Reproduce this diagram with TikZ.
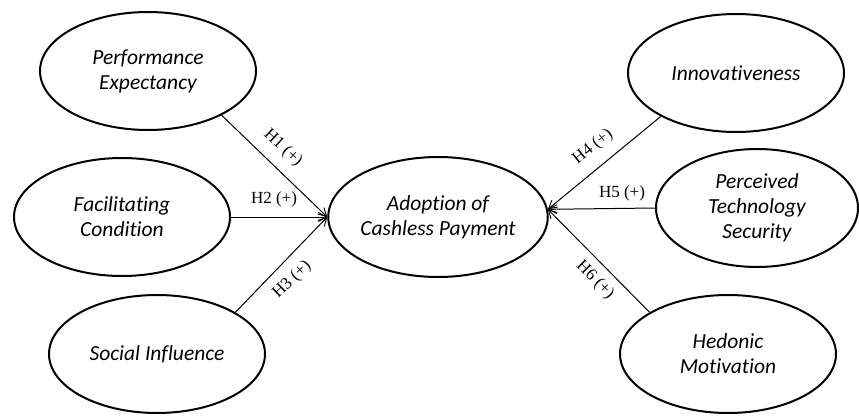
\documentclass[tikz,border=0pt]{standalone}
\usepackage{fontspec}
\setmainfont{Liberation Serif}
\newfontfamily\carlitofont[Ligatures=NoCommon]{Carlito}
\usetikzlibrary{shapes.geometric,arrows.meta}
\begin{document}
\begin{tikzpicture}[x=1pt,y=-1pt,
  construct/.style={ellipse,draw,line width=2pt,minimum width=216pt,minimum height=118pt,inner sep=0pt,
    align=center,font=\carlitofont\itshape\fontsize{21.5}{25}\selectfont},
  path/.style={line width=1pt,-{Straight Barb[length=8pt,width=9pt,line width=0.9pt]}},
  hyp/.style={font=\fontsize{17}{18}\selectfont,inner sep=0pt}]
\useasboundingbox (0,0) rectangle (859,415);
\node[construct] (pe) at (148,71) {Performance\\Expectancy};
\node[construct] (fc) at (122,217) {Facilitating\\Condition};
\node[construct] (si) at (157,354) {Social Influence};
\node[construct,minimum height=120pt] (ad) at (438,217) {Adoption of\\Cashless Payment};
\node[construct] (in) at (736,73) {Innovativeness};
\node[construct,minimum width=202pt] (pts) at (757,208) {Perceived\\Technology\\Security};
\node[construct] (hm) at (728,354) {Hedonic\\Motivation};
\draw[path] (pe.-31) -- (ad.west);
\draw[path] (fc.east) -- (ad.west);
\draw[path] (si.28) -- (ad.west);
\draw[path] (in.210) -- (ad.4);
\draw[path] (pts.west) -- (ad.4);
\draw[path] (hm.152) -- (ad.4);
\node[hyp,rotate=-43] (h1) at (283,148) {H1 (+)};
\node[hyp] (h2) at (274,199) {H2 (+)};
\node[hyp,rotate=44] (h3) at (292,280) {H3 (+)};
\node[hyp,rotate=39] (h4) at (593,147) {H4 (+)};
\node[hyp] (h5) at (622,193) {H5 (+)};
\node[hyp,rotate=-45] (h6) at (595,280) {H6 (+)};
\end{tikzpicture}
\end{document}
